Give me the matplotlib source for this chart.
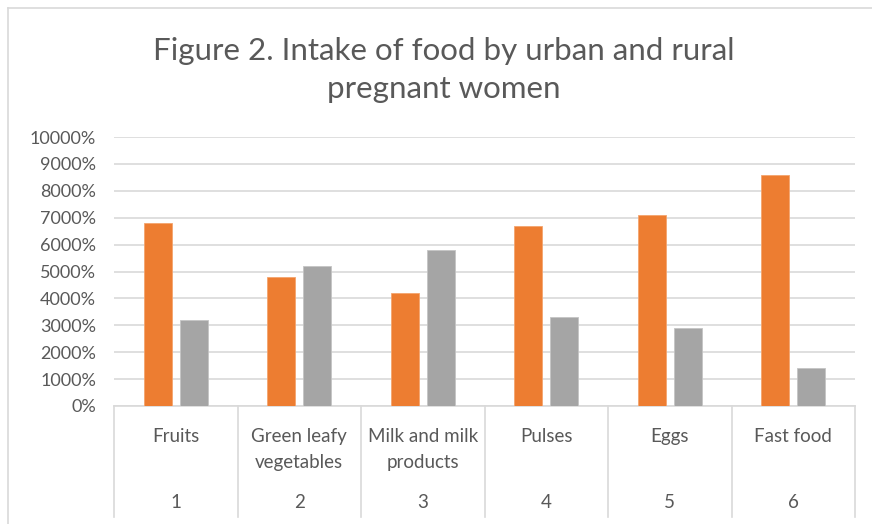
import matplotlib
matplotlib.use("Agg")
import matplotlib.pyplot as plt
from matplotlib.lines import Line2D
from matplotlib.ticker import FuncFormatter
from matplotlib.transforms import blended_transform_factory
import numpy as np

categories = ["Fruits", "Green leafy\nvegetables", "Milk and milk\nproducts", "Pulses", "Eggs", "Fast food"]
numbers = ["1", "2", "3", "4", "5", "6"]
urban = [6800, 4800, 4200, 6700, 7100, 8600]
rural = [3200, 5200, 5800, 3300, 2900, 1400]
yticks = list(range(0, 10001, 1000))

ORANGE = "#ED7D31"
GRAY = "#A5A5A5"
TXT = "#595959"
GRID = "#D9D9D9"
FONT = ["Lato", "DejaVu Sans"]
plt.rcParams["font.family"] = FONT

W, H = 872, 524
fig = plt.figure(figsize=(W / 100, H / 100), dpi=100)
ax = fig.add_axes([114 / W, 1 - 406 / H, (855 - 114) / W, (406 - 137) / H])

x = np.arange(len(categories))
bw = 0.226
off = 0.145
ax.bar(x - off, urban, width=bw, color=ORANGE, edgecolor="#F4A46E", linewidth=0.6, zorder=3)
ax.bar(x + off, rural, width=bw, color=GRAY, edgecolor="#C4C4C4", linewidth=0.6, zorder=3)

ax.set_xlim(-0.5, len(categories) - 0.5)
ax.set_ylim(0, 10000)
ax.set_yticks(yticks)
ax.yaxis.set_major_formatter(FuncFormatter(lambda v, p: f"{int(v)}%"))
ax.tick_params(axis="y", length=0, pad=13, labelsize=13, labelcolor=TXT)
ax.set_xticks([])
ax.grid(axis="y", color=GRID, linewidth=1.2, zorder=0)
for s in ["top", "right", "left"]:
    ax.spines[s].set_visible(False)
ax.spines["bottom"].set_color(GRID)
ax.spines["bottom"].set_linewidth(1.2)

tr = blended_transform_factory(ax.transData, ax.transAxes)
axh = (406 - 137)
def yax(py):
    return (406 - py) / axh

for b in np.arange(len(categories) + 1) - 0.5:
    ax.add_line(Line2D([b, b], [0, yax(517)], transform=tr, color=GRID, lw=1.2, clip_on=False))

for i, (c, n) in enumerate(zip(categories, numbers)):
    ax.text(i, yax(428), c, transform=tr, ha="center", va="top", fontsize=13.5, color=TXT,
            linespacing=1.62)
    ax.text(i, yax(502), n, transform=tr, ha="center", va="center", fontsize=13.5, color=TXT)

fig.text(444 / W, 1 - 70 / H, "Figure 2. Intake of food by urban and rural\npregnant women",
         ha="center", va="center", fontsize=22.5, color=TXT, linespacing=1.45)

fig.add_artist(Line2D([8 / W, 8 / W], [0, 1 - 8 / H], transform=fig.transFigure, color=GRID, lw=1.2))
fig.add_artist(Line2D([8 / W, 1], [1 - 8 / H, 1 - 8 / H], transform=fig.transFigure, color=GRID, lw=1.2))

fig.savefig("out.png", dpi=100)
